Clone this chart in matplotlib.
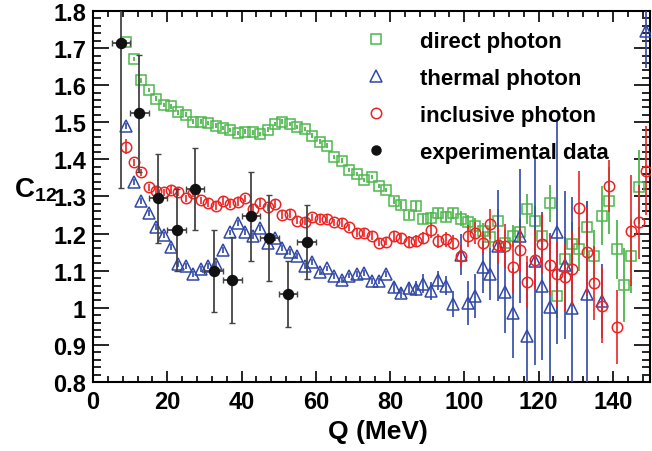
import numpy as np
import matplotlib
matplotlib.use("Agg")
import matplotlib.pyplot as plt
from matplotlib.ticker import MultipleLocator, FuncFormatter
from matplotlib.lines import Line2D

plt.rcParams['font.family'] = ['Liberation Sans', 'DejaVu Sans']
plt.rcParams['font.weight'] = 'bold'
plt.rcParams['mathtext.fontset'] = 'custom'
plt.rcParams['mathtext.rm'] = 'Liberation Sans:bold'
plt.rcParams['mathtext.bf'] = 'Liberation Sans:bold'
plt.rcParams['mathtext.it'] = 'Liberation Sans:bold'

nan = np.nan

# bin centres of the model curves (MeV)
q_model = [9, 11, 13, 15, 17, 19, 21, 23, 25, 27, 29, 31, 33, 35, 37, 39, 41, 43,
           45, 47, 49, 51, 53, 55, 57, 59, 61, 63, 65, 67, 69, 71, 73, 75, 77, 79,
           81, 83, 85, 87, 89, 91, 93, 95, 97, 99, 101, 103, 105, 107, 109, 111,
           113, 115, 117, 119, 121, 123, 125, 127, 129, 131, 133, 135, 137, 139,
           141, 143, 145, 147, 149]

direct = [1.717, 1.670, 1.613, 1.587, 1.564, 1.547, 1.543, 1.527, 1.521, 1.502,
          1.502, 1.498, 1.491, 1.485, 1.479, 1.471, 1.475, 1.473, 1.468, 1.480,
          1.495, 1.502, 1.495, 1.488, 1.482, 1.464, 1.448, 1.437, 1.406, 1.397,
          1.372, 1.361, 1.345, 1.352, 1.328, 1.318, 1.289, 1.277, 1.250, 1.274,
          1.240, 1.242, 1.255, 1.246, 1.255, 1.240, 1.231, 1.221, 1.208, 1.191,
          1.235, 1.176, 1.194, 1.203, 1.266, 1.235, 1.193, 1.282, 1.033, 1.132,
          1.172, 1.158, 1.217, 1.140, 1.248, 1.289, 1.158, 1.061, 1.139, 1.326, nan]
direct_err = [0.006] * 36 + [0.01, 0.01, 0.01, 0.015, 0.015, 0.015, 0.015, 0.015,
              0.015, 0.02, 0.02, 0.02, 0.02, 0.03, 0.03, 0.035, 0.03, 0.04, 0.04,
              0.04, 0.045, 0.05, 0.06, 0.06, 0.06, 0.06, 0.07, 0.07, 0.08, 0.09,
              0.08, 0.1, 0.1, 0.1, 0.0]

thermal = [1.491, 1.340, 1.289, 1.255, 1.219, 1.196, 1.163, 1.118, 1.113, 1.091,
           1.105, 1.113, 1.118, 1.157, 1.203, 1.229, 1.205, 1.194, 1.214, 1.176,
           1.187, 1.160, 1.151, 1.139, 1.113, 1.124, 1.096, 1.106, 1.086, 1.074,
           1.087, 1.091, 1.095, 1.071, 1.073, 1.091, 1.055, 1.041, 1.054, 1.052,
           1.065, 1.045, 1.074, 1.060, 1.010, 1.143, 1.013, 1.032, 1.109, 1.091,
           1.167, 1.043, 0.986, 1.193, 0.923, 1.127, 1.058, 1.001, 1.203, 1.115,
           0.999, nan, 1.037, nan, 1.019, nan, nan, nan, nan, nan, 1.747]
thermal_err = [0.008] * 36 + [0.015, 0.015, 0.015, 0.02, 0.025, 0.025, 0.025,
               0.025, 0.035, 0.055, 0.06, 0.06, 0.07, 0.07, 0.15, 0.11, 0.12,
               0.18, 0.2, 0.28, 0.2, 0.2, 0.3, 0.2, 0.3, 0.0, 0.25, 0.0, 0.1,
               0.0, 0.0, 0.0, 0.0, 0.0, 0.1]

inclusive = [1.434, 1.392, 1.365, 1.325, 1.316, 1.311, 1.318, 1.312, 1.295, 1.310,
             1.290, 1.283, 1.274, 1.288, 1.280, 1.285, 1.295, 1.267, 1.282, 1.271,
             1.280, 1.250, 1.253, 1.235, 1.232, 1.244, 1.239, 1.239, 1.230, 1.229,
             1.217, 1.202, 1.202, 1.194, 1.176, 1.178, 1.193, 1.187, 1.178, 1.180,
             1.188, 1.209, 1.180, 1.185, 1.176, 1.140, 1.194, 1.202, 1.176, 1.226,
             1.168, 1.166, 1.109, 1.157, 1.070, 1.130, 1.172, 1.115, 1.091, 1.082,
             1.105, 1.268, 1.151, 1.067, 1.006, 1.329, 0.949, nan, 1.208, 1.232, 1.370]
inclusive_err = [0.02] + [0.01] * 35 + [0.015, 0.015, 0.015, 0.015, 0.015, 0.02,
                 0.02, 0.02, 0.02, 0.03, 0.03, 0.03, 0.03, 0.04, 0.05, 0.06, 0.07,
                 0.06, 0.07, 0.08, 0.08, 0.08, 0.09, 0.09, 0.1, 0.1, 0.12, 0.1,
                 0.1, 0.07, 0.1, 0.0, 0.15, 0.1, 0.12]

# experimental points
q_exp = [7.5, 12.5, 17.5, 22.5, 27.5, 32.5, 37.5, 42.5, 47.5, 52.5, 57.5]
c_exp = [1.713, 1.524, 1.295, 1.210, 1.320, 1.100, 1.075, 1.247, 1.188, 1.037, 1.178]
c_exp_err = [0.39, 0.157, 0.12, 0.11, 0.11, 0.11, 0.115, 0.12, 0.116, 0.09, 0.1]
q_exp_err = [2.5] * 11

green = '#4db84d'
blue = '#3048a8'
red = '#ee2222'

fig = plt.figure(figsize=(6.52, 4.52), dpi=100)
ax = fig.add_axes([93 / 652, 1 - 383 / 452, 557 / 652, 371 / 452])

ax.errorbar(q_model, direct, yerr=direct_err, fmt='s', ms=7.3, mfc='none',
            mec=green, mew=1.1, ecolor=green, elinewidth=1.3, capsize=0, zorder=3)
ax.errorbar(q_model, thermal, yerr=thermal_err, fmt='^', ms=8, mfc='none',
            mec=blue, mew=1.1, ecolor=blue, elinewidth=1.2, capsize=0, zorder=4)
ax.errorbar(q_model, inclusive, yerr=inclusive_err, fmt='o', ms=7.5, mfc='none',
            mec=red, mew=1.1, ecolor=red, elinewidth=1.2, capsize=0, zorder=5)
ax.errorbar(q_exp, c_exp, yerr=c_exp_err, xerr=q_exp_err, fmt='o', ms=7.2,
            color='#111111', ecolor='#444444', elinewidth=1.3, capsize=2,
            capthick=1.0, zorder=6)

ax.set_xlim(0, 150)
ax.set_ylim(0.8, 1.8)
ax.xaxis.set_major_locator(MultipleLocator(20))
ax.xaxis.set_minor_locator(MultipleLocator(4))
ax.yaxis.set_major_locator(MultipleLocator(0.1))
ax.yaxis.set_minor_locator(MultipleLocator(0.02))
ax.yaxis.set_major_formatter(FuncFormatter(lambda v, p: '%g' % round(v, 2)))

ax.tick_params(which='both', direction='in', top=True, right=True,
               width=1.2, labelsize=17)
ax.tick_params(axis='x', which='major', length=8, pad=6)
ax.tick_params(axis='x', which='minor', length=4)
ax.tick_params(axis='y', which='major', length=11.5, pad=5)
ax.tick_params(axis='y', which='minor', length=5.8)
for s in ax.spines.values():
    s.set_linewidth(1.5)

ax.set_xlabel('Q (MeV)', fontsize=19, fontweight='bold', va='center')
ax.xaxis.set_label_coords(0.512, -0.132)
ax.set_ylabel('C$_{12}$', fontsize=20, fontweight='bold', rotation=0,
              va='center', ha='center')
ax.yaxis.set_label_coords(-0.104, 0.52)

# legend shows markers only
handles = [
    Line2D([], [], ls='none', marker='s', ms=7.3, mfc='none', mec=green, mew=1.1),
    Line2D([], [], ls='none', marker='^', ms=8, mfc='none', mec=blue, mew=1.1),
    Line2D([], [], ls='none', marker='o', ms=7.5, mfc='none', mec=red, mew=1.1),
    Line2D([], [], ls='none', marker='o', ms=6.5, color='#111111'),
]
labels = ['direct photon', 'thermal photon', 'inclusive photon', 'experimental data']
leg = ax.legend(handles, labels, loc='upper left', bbox_to_anchor=(0.452, 1.0),
                frameon=False, fontsize=16, handlelength=1.0, handletextpad=1.5,
                labelspacing=0.72, borderpad=0.4)
for t in leg.get_texts():
    t.set_fontweight('bold')

fig.savefig('out.png', dpi=100)
